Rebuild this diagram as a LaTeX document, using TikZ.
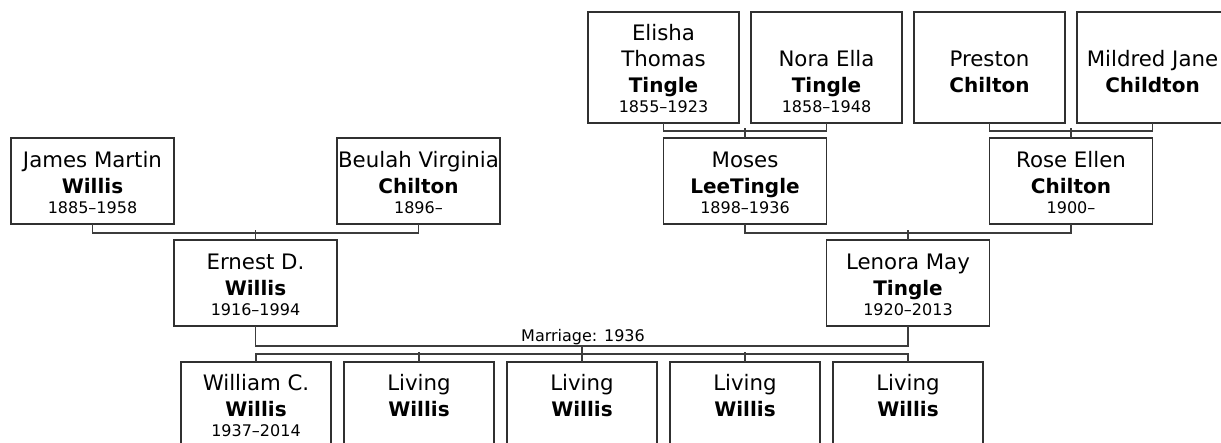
\documentclass[tikz,border=0pt]{standalone}
\usepackage{fontspec}
\setmainfont{DejaVu Sans}
\usetikzlibrary{calc}
\definecolor{boxc}{HTML}{303030}
\definecolor{linec}{HTML}{3c3c3c}
\tikzset{
  pbox/.style={draw=boxc, line width=1.8pt, fill=white, inner sep=0pt, rectangle},
  gname/.style={anchor=base, inner sep=0pt, font=\fontsize{21.3}{25}\selectfont, text=black},
  sname/.style={anchor=base, inner sep=0pt, font=\fontsize{20}{24}\selectfont\bfseries, text=black},
  yname/.style={anchor=base, inner sep=0pt, font=\fontsize{16}{19}\selectfont, text=black},
  mlabel/.style={anchor=base, inner sep=0pt, font=\fontsize{16}{19}\selectfont, text=black},
  conn/.style={draw=linec, line width=1.8pt, line cap=rect}
}
\newcommand\person[8]{%
  \node[pbox, minimum width=#4pt, minimum height=#5pt] (#1) at (#2,#3) {};
  \path (#1.south) ++(0,-57) node[gname] (#1-g) {#6};
  \path (#1.south) ++(0,-31) node[sname] (#1-s) {#7};
  \if\relax\detokenize{#8}\relax\else
  \path (#1.south) ++(0,-11) node[yname] (#1-y) {#8};\fi
}
\begin{document}
\begin{tikzpicture}[x=1pt, y=-1pt]
\useasboundingbox (0,0) rectangle (1221,443);
\clip (0,0) rectangle (1221,443);
\person{james}{92.5}{181}{163}{86}{James Martin}{Willis}{1885–1958}
\person{beulah}{418.5}{181}{163}{86}{Beulah Virginia}{Chilton}{1896–}
\person{ernest}{255.5}{283}{163}{86}{Ernest D.}{Willis}{1916–1994}
\person{elisha}{663.5}{67.5}{151}{111}{Thomas}{Tingle}{1855–1923}
\path (elisha.south) ++(0,-83) node[gname] (elisha-g2) {Elisha};
\person{nora}{826.5}{67.5}{151}{111}{Nora Ella}{Tingle}{1858–1948}
\person{preston}{989.5}{67.5}{151}{111}{Preston}{Chilton}{}
\person{mildred}{1152.5}{67.5}{151}{111}{Mildred Jane}{Childton}{}
\person{moses}{745}{181}{163}{86}{Moses}{LeeTingle}{1898–1936}
\person{rose}{1071}{181}{163}{86}{Rose Ellen}{Chilton}{1900–}
\person{lenora}{908}{283}{163}{86}{Lenora May}{Tingle}{1920–2013}
\person{william}{256}{404.5}{150}{85}{William C.}{Willis}{1937–2014}
\person{liv1}{419}{404.5}{150}{85}{Living}{Willis}{}
\person{liv2}{582}{404.5}{150}{85}{Living}{Willis}{}
\person{liv3}{745}{404.5}{150}{85}{Living}{Willis}{}
\person{liv4}{908}{404.5}{150}{85}{Living}{Willis}{}
% parent connectors
\draw[conn] (james.south) |- ($(james.south)+(0,8)$) -| (beulah.south);
\draw[conn] (ernest.north) -- ++(0,-8);
\draw[conn] (elisha.south) |- ($(elisha.south)+(0,7)$) -| (nora.south);
\draw[conn] (moses.north) -- ++(0,-8);
\draw[conn] (preston.south) |- ($(preston.south)+(0,7)$) -| (mildred.south);
\draw[conn] (rose.north) -- ++(0,-8);
\draw[conn] (moses.south) |- ($(moses.south)+(0,8)$) -| (rose.south);
\draw[conn] (lenora.north) -- ++(0,-8);
% marriage
\draw[conn] (ernest.south) |- (256,346) coordinate (m1) -| (lenora.south);
\node[mlabel] (mlab) at (583,342) {Marriage: 1936};
\coordinate (m2) at (582,346);
\draw[conn] (m2) -- (582,354);
\draw[conn] (william.north) |- (582,354) -| (liv4.north);
\draw[conn] (liv1.north) -- ++(0,-8);
\draw[conn] (liv2.north) -- ++(0,-8);
\draw[conn] (liv3.north) -- ++(0,-8);
\end{tikzpicture}
\end{document}
